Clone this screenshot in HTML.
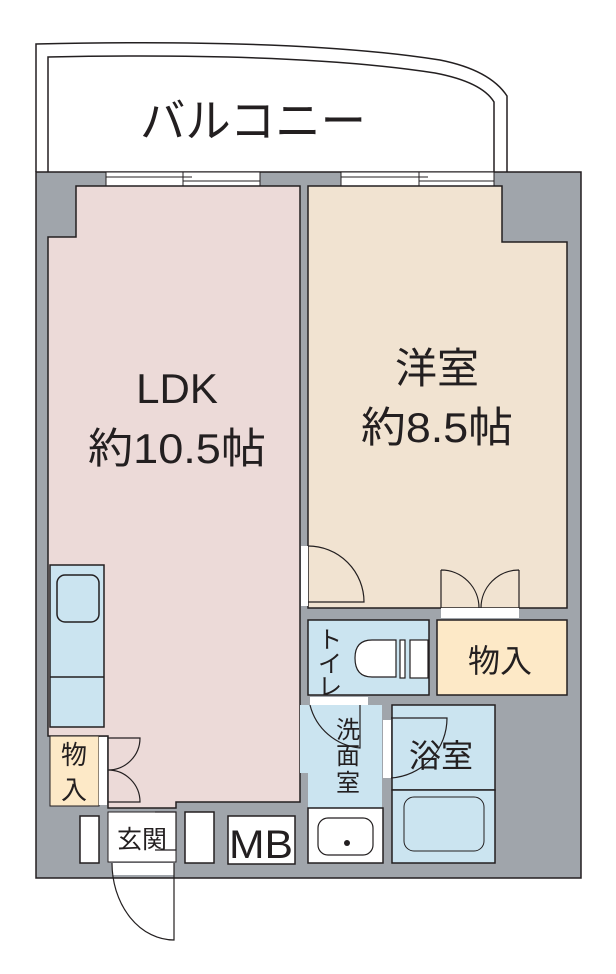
<!DOCTYPE html>
<html><head><meta charset="utf-8"><style>html,body{margin:0;padding:0;background:#fff}svg{display:block}text{font-family:"Liberation Sans","Noto Sans CJK JP",sans-serif;fill:#231f20}</style></head>
<body>
<svg width="616" height="974" viewBox="0 0 616 974" xmlns="http://www.w3.org/2000/svg">
<g stroke="#231f20" stroke-width="1.5" fill="none">
<path d="M36,172 L36,44 Q300,38 440,60 Q490,70 507,96 L507,172" fill="#fff"/>
<path d="M48,172 L48,57 Q300,52 435,73 Q482,82 494,102 L494,172"/>
</g>
<rect x="36" y="172" width="545" height="706" fill="#a0a5ab" stroke="#231f20" stroke-width="1.5"/>
<g fill="#fff" stroke="#231f20" stroke-width="1">
<rect x="106" y="172" width="154" height="14"/>
<rect x="341" y="172" width="153" height="14"/>
</g>
<g stroke="#231f20" stroke-width="1">
<line x1="106" y1="177" x2="183" y2="177"/><line x1="183" y1="181" x2="260" y2="181"/><line x1="183" y1="172" x2="183" y2="186"/><line x1="176" y1="177" x2="192" y2="177"/>
<line x1="341" y1="177" x2="419" y2="177"/><line x1="419" y1="181" x2="494" y2="181"/><line x1="419" y1="172" x2="419" y2="186"/><line x1="411" y1="177" x2="428" y2="177"/>
</g>
<g stroke="#231f20" stroke-width="1.5">
<path d="M76,186 L300,186 L300,802 L176,802 L176,808 L108,808 L108,736 L48,736 L48,237 L76,237 Z" fill="#ecdad8"/>
<path d="M308,186 L502,186 L502,242 L567,242 L567,608 L308,608 Z" fill="#f1e3d1"/>
<rect x="50" y="565" width="54" height="162" fill="#cbe4f0"/>
<line x1="50" y1="677" x2="104" y2="677"/>
<rect x="57" y="575" width="42" height="47" rx="8" fill="#cbe4f0"/>
<rect x="50" y="736" width="49" height="70" fill="#fde9c7" stroke-width="1"/>
<rect x="308" y="620" width="121" height="75" fill="#cbe4f0"/>
<rect x="437" y="620" width="130" height="75" fill="#fde9c7"/>
<path d="M300,705 L382,705 L382,808 L308,808 L308,773 L300,773 Z" fill="#cbe4f0" stroke="none"/>
<rect x="308" y="808" width="75" height="55" fill="#fff"/>
<rect x="392" y="705" width="103" height="85" fill="#cbe4f0"/>
<rect x="392" y="790" width="103" height="73" fill="#cbe4f0"/>
<rect x="404" y="797" width="80" height="54" rx="10" fill="#cbe4f0" stroke-width="1"/>
<rect x="108" y="812" width="68" height="50" fill="#fff" stroke-width="1"/>
<rect x="80" y="816" width="19" height="47" fill="#fff"/>
<rect x="185" y="812" width="29" height="51" fill="#fff"/>
<rect x="228" y="816" width="67" height="48" fill="#fff"/>
</g>
<g fill="#fff" stroke="none">
<rect x="99" y="737" width="8" height="68"/>
<rect x="301" y="546" width="7" height="60"/>
<rect x="441" y="608" width="78" height="10"/>
<rect x="310" y="697" width="58" height="8"/>
<rect x="383" y="720" width="8" height="58"/>
<rect x="112" y="863" width="62" height="12"/>
</g>
<g fill="none" stroke="#231f20" stroke-width="1.2">
<path d="M308,546 A56,56 0 0 1 364,602 L308,602"/>
<path d="M441,570 L441,608 M441,570 A38,38 0 0 1 479,608 M519,570 L519,608 M519,570 A38,38 0 0 0 481,608"/>
<path d="M108,738 L140,738 A32,32 0 0 1 108,770 A32,32 0 0 1 140,802 L108,802"/>
<path d="M396,640 L372,640 Q355,640 355,658 Q355,677 372,677 L396,677 Z" fill="#fff"/>
<rect x="400" y="640" width="5" height="38" fill="#fff"/>
<rect x="410" y="640" width="18" height="38" fill="#fff"/>
<path d="M310,705 A57,57 0 0 0 360,748 L360,705"/>
<path d="M391,718 L447,718 A60,60 0 0 1 391,778"/>
<rect x="318" y="818" width="55" height="37" rx="10" fill="#fff"/>
<path d="M174,863 L174,940 A62,77 0 0 1 112,863"/>
<path d="M155,812 L176,812 L176,850 L155,850"/>
</g>
<circle cx="347" cy="843" r="3" fill="#231f20"/>
<text x="253" y="137" font-size="46" text-anchor="middle" textLength="226" lengthAdjust="spacingAndGlyphs">バルコニー</text>
<text x="177" y="403" font-size="42" text-anchor="middle">LDK</text>
<text x="177" y="463" font-size="42" text-anchor="middle" textLength="178" lengthAdjust="spacingAndGlyphs">約10.5帖</text>
<text x="437" y="383" font-size="42" text-anchor="middle">洋室</text>
<text x="437" y="442" font-size="42" text-anchor="middle" textLength="152" lengthAdjust="spacingAndGlyphs">約8.5帖</text>
<text x="500" y="672" font-size="32" text-anchor="middle">物入</text>
<text x="441" y="767" font-size="32" text-anchor="middle">浴室</text>
<text x="74" y="764" font-size="26" text-anchor="middle">物</text>
<text x="74" y="799" font-size="26" text-anchor="middle">入</text>
<text x="330" y="648" font-size="24" text-anchor="middle">ト</text>
<text x="330" y="672" font-size="24" text-anchor="middle">イ</text>
<text x="330" y="695" font-size="24" text-anchor="middle">レ</text>
<text x="348" y="738" font-size="24" text-anchor="middle">洗</text>
<text x="348" y="764" font-size="24" text-anchor="middle">面</text>
<text x="348" y="791" font-size="24" text-anchor="middle">室</text>
<text x="142" y="848" font-size="25" text-anchor="middle">玄関</text>
<text x="261" y="858" font-size="40" text-anchor="middle" textLength="64" lengthAdjust="spacingAndGlyphs">MB</text>
</svg>
</body></html>
